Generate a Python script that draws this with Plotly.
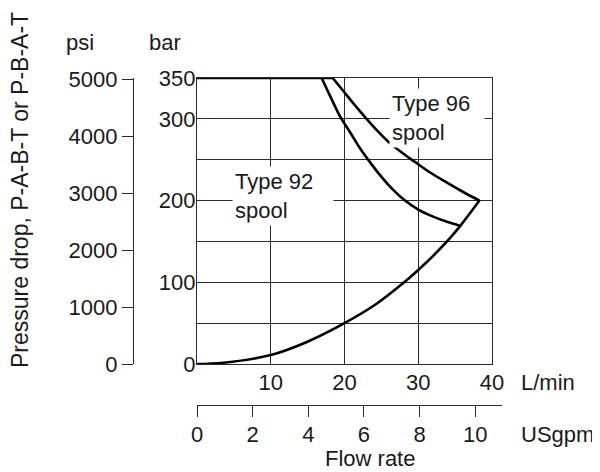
import plotly.graph_objects as go

# ---- data ----
# maximum pressure limit line (bar) up to where the spool curves start
limit_flow = [0, 18.4]
limit_bar = [350, 350]

# Type 92 spool limit curve (L/min, bar)
t92_flow = [16.9, 18.1, 19.4, 20.8, 22.1, 23.7, 25.1, 26.6, 28.2, 30.0, 32.1, 33.9, 35.7]
t92_bar = [350, 327, 303, 283, 264, 244, 228, 213, 200, 189, 180, 174, 169]

# Type 96 spool limit curve (L/min, bar)
t96_flow = [18.4, 19.9, 21.2, 22.9, 24.4, 26.2, 27.9, 29.6, 31.5, 33.9, 36.1, 38.3]
t96_bar = [350, 333.5, 319, 301, 286, 270, 258, 247, 235, 222, 210.5, 200]

# pressure drop curve (L/min, bar)
dp_flow = [0, 3.6, 10, 14.9, 20, 24.4, 28.1, 30, 32.2, 34.3, 35.7, 38.3]
dp_bar = [0, 1.6, 11, 27, 50, 74, 100, 115, 134, 154, 169, 200]

# axes ticks
bar_ticks = [0, 50, 100, 150, 200, 250, 300, 350]
bar_text = ["0", "", "100", "", "200", "", "300", "350"]
psi_ticks = [0, 1000, 2000, 3000, 4000, 5000]
lpm_ticks = [10, 20, 30, 40]
gpm_ticks = [0, 2, 4, 6, 8, 10]

FONT = "Liberation Sans, Arial, sans-serif"
INK = "#1a1a1a"
GRID = "#2a2a2a"

# the page body has an 8px margin: design in window pixels, shift by OFF
OFF = 8
FW, FH = 600 - OFF, 472 - OFF
PL, PR, PT, PB = 133, 502, 78, 405          # paper box in window pixels
L, R, T, B = PL - OFF, FW - (PR - OFF), PT - OFF, FH - (PB - OFF)
W = PR - PL
H = PB - PT


def px_x(p):
    return (p - PL) / W


def px_y(p):
    return (PB - p) / H


fig = go.Figure()

curve = dict(color="black", width=2.6)
fig.add_trace(go.Scatter(x=limit_flow, y=limit_bar, mode="lines", line=curve,
                         showlegend=False, hoverinfo="skip"))
fig.add_trace(go.Scatter(x=t92_flow, y=t92_bar, mode="lines",
                         line=dict(curve, shape="spline", smoothing=1.0),
                         showlegend=False, name="Type 92 spool"))
fig.add_trace(go.Scatter(x=t96_flow, y=t96_bar, mode="lines",
                         line=dict(curve, shape="spline", smoothing=1.0),
                         showlegend=False, name="Type 96 spool"))
fig.add_trace(go.Scatter(x=dp_flow, y=dp_bar, mode="lines",
                         line=dict(curve, shape="spline", smoothing=1.0),
                         showlegend=False, name="Pressure drop"))

# invisible helper trace so the psi and USgpm axes are drawn
fig.add_trace(go.Scatter(x=[gpm_ticks[0], gpm_ticks[-1]],
                         y=[psi_ticks[0], psi_ticks[-1]], mode="markers",
                         marker=dict(opacity=0), xaxis="x2", yaxis="y2",
                         showlegend=False, hoverinfo="skip"))

xdom = [px_x(197), px_x(492)]
ydom = [px_y(364), 1]

fig.update_layout(
    width=FW, height=FH,
    margin=dict(l=L, r=R, t=T, b=B, autoexpand=False),
    paper_bgcolor="white", plot_bgcolor="rgba(0,0,0,0)",
    font=dict(family=FONT, size=22, color=INK),
    showlegend=False,
    xaxis=dict(domain=xdom, range=[0, 40], tickvals=lpm_ticks, ticks="",
               showgrid=True, gridcolor=GRID, gridwidth=1.3,
               showline=True, mirror=True, linecolor=GRID, linewidth=1.3,
               zeroline=False, anchor="y", fixedrange=True,
               ticklabelstandoff=-2),
    yaxis=dict(domain=ydom, range=[0, 350], tickvals=bar_ticks, ticktext=bar_text,
               ticks="", showgrid=True, gridcolor=GRID, gridwidth=1.3,
               showline=True, mirror=True, linecolor=GRID, linewidth=1.3,
               zeroline=False, anchor="x", fixedrange=True,
               ticklabelstandoff=-4),
    yaxis2=dict(domain=ydom, anchor="free", position=0, side="left",
                range=[0, 5028], tickvals=psi_ticks, ticks="outside", ticklen=11,
                tickcolor=GRID, tickwidth=1.3, showgrid=False, zeroline=False,
                showline=True, linecolor=GRID, linewidth=1.3, fixedrange=True),
    xaxis2=dict(domain=[px_x(197), 1], anchor="free", position=0, side="bottom",
                range=[0, (502 - 197) / 27.83], tickvals=gpm_ticks,
                ticks="outside", ticklen=11, tickcolor=GRID, tickwidth=1.3,
                showgrid=False, zeroline=False, showline=True, linecolor=GRID,
                linewidth=1.3, fixedrange=True, ticklabelstandoff=-2),
)

ann = []


def paper_text(text, xp, yp, xanchor="center", size=22, angle=0):
    ann.append(dict(text=text, x=px_x(xp), y=px_y(yp), xref="paper", yref="paper",
                    xanchor=xanchor, yanchor="middle", showarrow=False,
                    textangle=angle, font=dict(family=FONT, size=size, color=INK)))


paper_text("psi", 80, 43)
paper_text("bar", 165, 43)
paper_text("L/min", 519, 382, xanchor="left")
paper_text("USgpm", 519, 435, xanchor="left")
paper_text("Flow rate", 370, 459)
paper_text("Pressure drop, P-A-B-T or P-B-A-T", 20, 190, size=23, angle=-90)

# spool labels with white background over the grid
ann.append(dict(text="Type 92<br>spool", x=4.8, y=206, xref="x", yref="y",
                xanchor="left", yanchor="middle", align="left", width=96,
                bgcolor="white", borderpad=2, showarrow=False,
                font=dict(family=FONT, size=22, color=INK)))
ann.append(dict(text="Type 96<br>spool", x=26.1, y=301, xref="x", yref="y",
                xanchor="left", yanchor="middle", align="left", width=90,
                bgcolor="white", borderpad=2, showarrow=False,
                font=dict(family=FONT, size=22, color=INK)))
fig.update_layout(annotations=ann)

fig.write_html("out.html")
